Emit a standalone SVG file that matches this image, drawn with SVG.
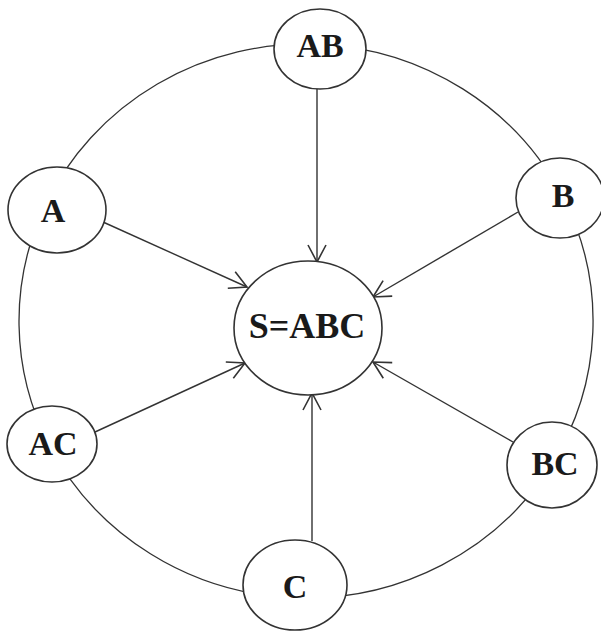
<svg xmlns="http://www.w3.org/2000/svg" width="601" height="633" viewBox="0 0 601 633">
<style>
.node{fill:#fff;stroke:#333;stroke-width:1.6}
.arc{fill:none;stroke:#333;stroke-width:1.3}
.edge{fill:none;stroke:#333;stroke-width:1.4;marker-end:url(#arr)}
.lbl{font-family:"Liberation Serif","Times New Roman",serif;font-weight:bold;font-size:34px;fill:#1a1a1a;text-anchor:middle}
</style>
<defs>
<marker id="arr" viewBox="-19 -11 21 22" refX="0" refY="0" markerWidth="21" markerHeight="22" markerUnits="userSpaceOnUse" orient="auto">
<path d="M-17,-9 L0,0 L-17,9" fill="none" stroke="#333" stroke-width="1.6"/>
</marker>
</defs>
<rect width="601" height="633" fill="#fff"/>
<g id="connectors">
<path class="arc" d="M45.5,204.9 A287 277 0 0 1 320.2,44.3"/>
<path class="arc" d="M320.2,44.3 A287 277 0 0 1 562.6,196.8"/>
<path class="arc" d="M562.6,196.8 A287 277 0 0 1 551.4,464.7"/>
<path class="arc" d="M551.4,464.7 A287 277 0 0 1 294.5,597.8"/>
<path class="arc" d="M294.5,597.8 A287 277 0 0 1 49.4,445.2"/>
<path class="arc" d="M49.4,445.2 A287 277 0 0 1 45.5,204.9"/>
<line class="edge" x1="317" y1="89" x2="317" y2="262"/>
<line class="edge" x1="103" y1="222" x2="247" y2="287"/>
<line class="edge" x1="518" y1="212" x2="373" y2="297"/>
<line class="edge" x1="95" y1="432" x2="245" y2="363"/>
<line class="edge" x1="513" y1="442" x2="373" y2="362"/>
<line class="edge" x1="312" y1="541" x2="312" y2="393"/>
</g>
<g id="node-AB"><ellipse class="node" cx="320" cy="49" rx="46" ry="40"/><text class="lbl" x="320" y="57">AB</text></g>
<g id="node-A"><ellipse class="node" cx="57" cy="210" rx="49" ry="43"/><text class="lbl" x="53" y="222">A</text></g>
<g id="node-B"><ellipse class="node" cx="560" cy="198" rx="44" ry="40"/><text class="lbl" x="563" y="207">B</text></g>
<g id="node-S"><ellipse class="node" cx="308" cy="328" rx="74" ry="67"/><text class="lbl" x="307" y="338" style="font-size:36px">S=ABC</text></g>
<g id="node-AC"><ellipse class="node" cx="52" cy="444" rx="45" ry="38"/><text class="lbl" x="53" y="455">AC</text></g>
<g id="node-BC"><ellipse class="node" cx="552" cy="465" rx="45" ry="43"/><text class="lbl" x="555" y="475">BC</text></g>
<g id="node-C"><ellipse class="node" cx="295" cy="585" rx="52" ry="45"/><text class="lbl" x="295" y="598">C</text></g>
</svg>
